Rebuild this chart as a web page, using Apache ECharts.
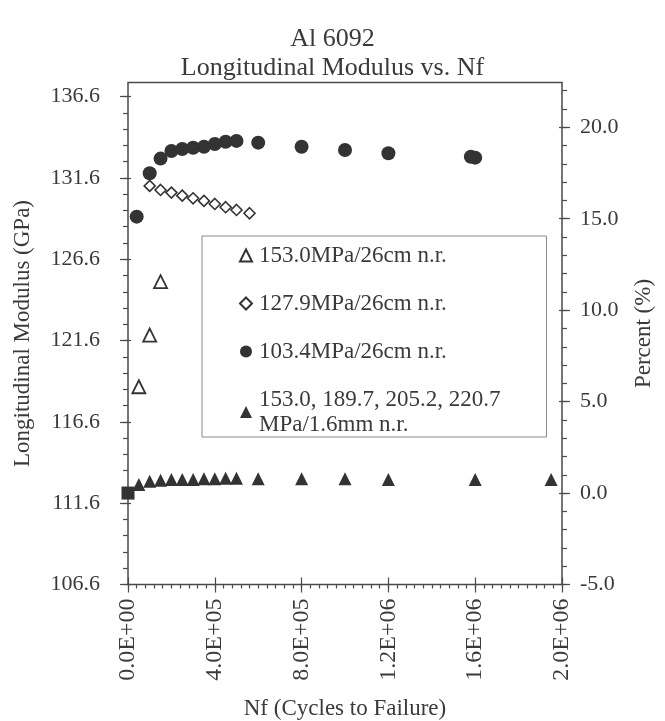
<!DOCTYPE html>
<html>
<head>
<meta charset="utf-8">
<title>Al 6092 Longitudinal Modulus vs. Nf</title>
<script src="https://cdn.jsdelivr.net/npm/echarts@6/dist/echarts.min.js"></script>
<style>
  html, body { margin: 0; padding: 0; background: #fff; }
  #chart { width: 665px; height: 721px; }
</style>
</head>
<body>
<div id="chart"></div>
<script>
// tick labels
const nfTicks = [0, 4e5, 8e5, 1.2e6, 1.6e6, 2e6];
const modulusTicks = [106.6, 111.6, 116.6, 121.6, 126.6, 131.6, 136.6];
const percentTicks = [-5, 0, 5, 10, 15, 20];

// 153.0MPa/26cm n.r. (open triangles, GPa)
const nfA = [5e4, 1e5, 1.5e5];
const modA = [118.76, 121.94, 125.22];

// 127.9MPa/26cm n.r. (open diamonds, GPa)
const nfB = [1e5, 1.5e5, 2e5, 2.5e5, 3e5, 3.5e5, 4e5, 4.5e5, 5e5, 5.6e5];
const modB = [131.11, 130.86, 130.70, 130.51, 130.35, 130.19, 130.00, 129.80, 129.63, 129.43];

// 103.4MPa/26cm n.r. (filled circles, GPa)
const nfC = [4e4, 1e5, 1.5e5, 2e5, 2.5e5, 3e5, 3.5e5, 4e5, 4.5e5, 5e5, 6e5, 8e5, 1e6, 1.2e6, 1.58e6, 1.6e6];
const modC = [129.22, 131.89, 132.79, 133.26, 133.38, 133.46, 133.52, 133.69, 133.83, 133.88, 133.77, 133.52, 133.32, 133.12, 132.90, 132.85];

// 153.0, 189.7, 205.2, 220.7 MPa/1.6mm n.r. (filled triangles, percent)
const nfD = [0, 5e4, 1e5, 1.5e5, 2e5, 2.5e5, 3e5, 3.5e5, 4e5, 4.5e5, 5e5, 6e5, 8e5, 1e6, 1.2e6, 1.6e6, 1.95e6];
const pctD = [0.0, 0.47, 0.65, 0.70, 0.74, 0.74, 0.74, 0.78, 0.78, 0.81, 0.81, 0.78, 0.78, 0.78, 0.74, 0.74, 0.74];

const names = [
  '153.0MPa/26cm n.r.',
  '127.9MPa/26cm n.r.',
  '103.4MPa/26cm n.r.',
  '153.0, 189.7, 205.2, 220.7\nMPa/1.6mm n.r.'
];
const legendIcons = ['triangle', 'diamond', 'circle', 'triangle'];

const FONT = 'Liberation Serif';
const INK = '#3a3a3a';
const LINE = '#4a4a4a';

function zip(xs, ys) {
  return xs.map((x, i) => [x, ys[i]]);
}

// minor ticks between the major ones
function minorValues(start, end, step) {
  const out = [];
  for (let v = start; v <= end + 1e-9; v += step) out.push(Math.round(v * 1000) / 1000);
  return out;
}

function fmtE(v) {
  if (v === 0) return '0.0E+00';
  const e = Math.floor(Math.log10(v) + 1e-9);
  const m = v / Math.pow(10, e);
  return m.toFixed(1) + 'E+' + String(e).padStart(2, '0');
}

const nameStyle = { fontFamily: FONT, fontSize: 23, color: INK };

// one axis that draws only tick marks (no line, no labels)
function tickAxis(base, values, len, inside) {
  return Object.assign({}, base, {
    axisLine: { show: false, onZero: false },
    splitLine: { show: false },
    axisLabel: { show: false },
    axisTick: { show: true, inside: inside, length: len, customValues: values, lineStyle: { color: LINE, width: 1.2 } }
  });
}

const xBase = { type: 'value', min: 0, max: 2e6, position: 'bottom' };
const yLeftBase = { type: 'value', min: 106.6, max: 137.47, position: 'left' };
const yRightBase = { type: 'value', min: -5, max: 22.45, position: 'right' };

const chart = echarts.init(document.getElementById('chart'));
chart.setOption({
  animation: false,
  backgroundColor: '#fff',
  title: {
    text: 'Al 6092\nLongitudinal Modulus vs. Nf',
    left: 'center',
    top: 25,
    padding: [0, 0, 0, 9],
    textStyle: { fontFamily: FONT, fontSize: 26, lineHeight: 29, fontWeight: 'normal', color: INK }
  },
  grid: {
    left: 128, right: 103, top: 82.5, bottom: 136.5,
    containLabel: false,
    outerBoundsMode: 'none',
    show: true, borderColor: LINE, borderWidth: 1.5, backgroundColor: 'transparent'
  },
  legend: {
    orient: 'vertical',
    left: 202,
    top: 236,
    padding: [7, 46, 0, 37],
    itemGap: 23,
    itemWidth: 12,
    itemHeight: 12,
    borderColor: '#8a8a8a',
    borderWidth: 1,
    backgroundColor: '#fff',
    textStyle: { fontFamily: FONT, fontSize: 23, lineHeight: 25, color: INK, padding: [0, 0, 0, 2] },
    data: names.map((n, i) => ({ name: n, icon: legendIcons[i] }))
  },
  xAxis: [
    Object.assign({}, xBase, {
      axisLine: { show: false, onZero: false },
      splitLine: { show: false },
      axisTick: { show: true, length: 8, customValues: nfTicks, lineStyle: { color: LINE, width: 1.2 } },
      axisLabel: { customValues: nfTicks, rotate: 90, margin: 14, formatter: fmtE, fontFamily: FONT, fontSize: 24, color: INK },
      name: 'Nf (Cycles to Failure)',
      nameLocation: 'middle',
      nameGap: 113,
      nameTextStyle: nameStyle
    }),
    tickAxis(xBase, minorValues(0, 2e6, 4e4), 4, false),
    tickAxis(xBase, nfTicks, 7, true)
  ],
  yAxis: [
    Object.assign({}, yLeftBase, {
      axisLine: { show: false, onZero: false },
      splitLine: { show: false },
      axisTick: { show: true, length: 8, customValues: modulusTicks, lineStyle: { color: LINE, width: 1.2 } },
      axisLabel: { customValues: modulusTicks, margin: 28, formatter: v => v.toFixed(1), fontFamily: FONT, fontSize: 22, color: INK },
      name: 'Longitudinal Modulus (GPa)',
      nameLocation: 'middle',
      nameGap: 94,
      nameTextStyle: nameStyle
    }),
    tickAxis(yLeftBase, minorValues(106.6, 136.6, 1), 5, false),
    tickAxis(yLeftBase, modulusTicks, 3, true),
    Object.assign({}, yRightBase, {
      axisLine: { show: false, onZero: false },
      splitLine: { show: false },
      axisTick: { show: true, length: 8, customValues: percentTicks, lineStyle: { color: LINE, width: 1.2 } },
      axisLabel: { customValues: percentTicks, margin: 18, formatter: v => v.toFixed(1), fontFamily: FONT, fontSize: 22, color: INK },
      name: 'Percent (%)',
      nameLocation: 'middle',
      nameGap: 70,
      nameRotate: 90,
      nameTextStyle: nameStyle
    }),
    tickAxis(yRightBase, minorValues(-5, 22, 1), 5, false),
    tickAxis(yRightBase, percentTicks, 3, true)
  ],
  series: [
    {
      name: names[0], type: 'scatter', yAxisIndex: 0,
      symbol: 'triangle', symbolSize: 13,
      itemStyle: { color: '#fff', borderColor: '#333', borderWidth: 1.8, opacity: 1 },
      data: zip(nfA, modA)
    },
    {
      name: names[1], type: 'scatter', yAxisIndex: 0,
      symbol: 'diamond', symbolSize: 11,
      itemStyle: { color: '#fff', borderColor: '#333', borderWidth: 1.6, opacity: 1 },
      data: zip(nfB, modB)
    },
    {
      name: names[2], type: 'scatter', yAxisIndex: 0,
      symbol: 'circle', symbolSize: 14,
      itemStyle: { color: '#333', opacity: 1 },
      data: zip(nfC, modC)
    },
    {
      name: names[3], type: 'scatter', yAxisIndex: 3,
      symbol: (val, params) => (params.dataIndex === 0 ? 'rect' : 'triangle'),
      symbolSize: 13,
      itemStyle: { color: '#333', opacity: 1 },
      data: zip(nfD, pctD)
    }
  ]
});
</script>
</body>
</html>
